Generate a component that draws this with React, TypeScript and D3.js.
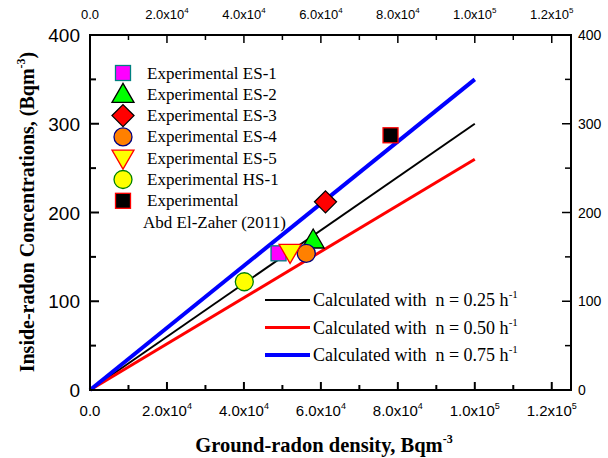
import React from "react";
import * as d3 from "d3";

const xTicks = [0, 20000, 40000, 60000, 80000, 100000, 120000];
const xTickMantissa = ["0.0", "2.0x10", "4.0x10", "6.0x10", "8.0x10", "1.0x10", "1.2x10"];
const xTickExp = ["", "4", "4", "4", "4", "5", "5"];
const yTicks = [0, 100, 200, 300, 400];

const lineNames = ["Calculated with  n = 0.25 h", "Calculated with  n = 0.50 h", "Calculated with  n = 0.75 h"];
const lineSlopeEnd = [300, 260, 350]; // value at x = 1e5
const lineXEnd = 100000;
const lineColors = ["#000000", "#ff0000", "#0000ff"];
const lineWidths = [2, 3, 4];

const pointNames = ["Experimental ES-1", "Experimental ES-2", "Experimental ES-3", "Experimental ES-4", "Experimental ES-5", "Experimental HS-1", "Experimental"];
const pointX = [49000, 58000, 61200, 56200, 52000, 40100, 78100];
const pointY = [154, 169, 212, 154, 155, 122, 287];
const pointShapes = ["square", "triangle", "diamond", "circle", "triangleDown", "circle", "square"];
const pointFill = ["#ff00ff", "#00ff00", "#ff0000", "#ff8000", "#ffff00", "#ffff00", "#000000"];
const pointStroke = ["#008080", "#000000", "#000000", "#000080", "#ff0000", "#008000", "#ff0000"];

const W = 608, H = 458;
const x = d3.scaleLinear().domain([0, 125000]).range([90, 571]);
const y = d3.scaleLinear().domain([0, 400]).range([390, 35]);

function Marker({ shape, cx, cy, fill, stroke }: any) {
  const sw = 1.3;
  if (shape === "square") return <rect x={cx - 7.5} y={cy - 7.5} width={15} height={15} fill={fill} stroke={stroke} strokeWidth={sw} />;
  if (shape === "circle") return <circle cx={cx} cy={cy} r={9} fill={fill} stroke={stroke} strokeWidth={sw} />;
  if (shape === "diamond") return <path d={`M${cx},${cy - 11}L${cx + 11},${cy}L${cx},${cy + 11}L${cx - 11},${cy}Z`} fill={fill} stroke={stroke} strokeWidth={sw} />;
  if (shape === "triangle") return <path d={`M${cx},${cy - 11}L${cx + 11},${cy + 8}L${cx - 11},${cy + 8}Z`} fill={fill} stroke={stroke} strokeWidth={sw} />;
  if (shape === "triangleDown") return <path d={`M${cx},${cy + 11}L${cx + 11},${cy - 8}L${cx - 11},${cy - 8}Z`} fill={fill} stroke={stroke} strokeWidth={sw} />;
  return null;
}

export default function App() {
  const minorX = d3.range(0, 125001, 10000);
  const minorY = d3.range(0, 401, 50);
  const line = d3.line<[number, number]>().x((d) => x(d[0])).y((d) => y(d[1]));
  const serif = "'Liberation Serif', 'Times New Roman', serif";
  const sans = "'Liberation Sans', Arial, sans-serif";
  return (
    <svg width={W} height={H} style={{ position: "absolute", left: 0, top: 0, background: "#fff" }}>
      <rect width={W} height={H} fill="#fff" />
      {/* calculated lines */}
      {lineSlopeEnd.map((v, i) => (
        <path key={i} d={line([[0, 0], [lineXEnd, v]]) as string} stroke={lineColors[i]} strokeWidth={lineWidths[i]} fill="none" />
      ))}
      {/* points */}
      {pointX.map((px, i) => (
        <Marker key={i} shape={pointShapes[i]} cx={x(px)} cy={y(pointY[i])} fill={pointFill[i]} stroke={pointStroke[i]} />
      ))}
      {/* frame */}
      <rect x={x(0)} y={y(400)} width={x(125000) - x(0)} height={y(0) - y(400)} fill="none" stroke="#000" strokeWidth={2} />
      {/* x ticks */}
      {minorX.map((t) => {
        const major = t % 20000 === 0;
        const L = major ? 8 : 5;
        return (
          <g key={t}>
            <line x1={x(t)} x2={x(t)} y1={y(0)} y2={y(0) - L} stroke="#000" strokeWidth={2} />
            <line x1={x(t)} x2={x(t)} y1={y(400)} y2={y(400) + L} stroke="#000" strokeWidth={1.5} />
          </g>
        );
      })}
      {minorY.map((t) => {
        const major = t % 100 === 0;
        const L = major ? 9 : 6;
        return (
          <g key={t}>
            <line x1={x(0)} x2={x(0) + L} y1={y(t)} y2={y(t)} stroke="#000" strokeWidth={2} />
            <line x1={x(125000)} x2={x(125000) - L} y1={y(t)} y2={y(t)} stroke="#000" strokeWidth={1.5} />
          </g>
        );
      })}
      {/* bottom tick labels */}
      {xTicks.map((t, i) => (
        <text key={t} x={x(t)} y={416} textAnchor="middle" fontFamily={sans} fontSize={15} fill="#000">
          {xTickMantissa[i]}
          {xTickExp[i] && <tspan dy={-7} fontSize={9}>{xTickExp[i]}</tspan>}
        </text>
      ))}
      {/* top tick labels */}
      {xTicks.map((t, i) => (
        <text key={t} x={x(t)} y={19} textAnchor="middle" fontFamily={sans} fontSize={13} fill="#000">
          {xTickMantissa[i]}
          {xTickExp[i] && <tspan dy={-6} fontSize={8}>{xTickExp[i]}</tspan>}
        </text>
      ))}
      {/* left tick labels */}
      {yTicks.map((t) => (
        <text key={t} x={80} y={y(t) + 7} textAnchor="end" fontFamily={sans} fontSize={19} fill="#000">{t}</text>
      ))}
      {/* right tick labels */}
      {yTicks.map((t) => (
        <text key={t} x={578} y={y(t) + 5} textAnchor="start" fontFamily={sans} fontSize={14} fill="#000">{t}</text>
      ))}
      {/* axis titles */}
      <text x={324} y={452} textAnchor="middle" fontFamily={serif} fontWeight="bold" fontSize={20.5} fill="#000">
        Ground-radon density, Bqm<tspan dy={-9} fontSize={12}>-3</tspan>
      </text>
      <text transform="translate(34,212) rotate(-90)" textAnchor="middle" fontFamily={serif} fontWeight="bold" fontSize={20} fill="#000">
        Inside-radon Concentrations, (Bqm<tspan dy={-9} fontSize={12}>-3</tspan><tspan dy={9}>)</tspan>
      </text>
      {/* point legend */}
      {pointNames.map((n, i) => {
        const cy = 73 + i * 21.3;
        return (
          <g key={n}>
            <Marker shape={pointShapes[i]} cx={123} cy={cy} fill={pointFill[i]} stroke={pointStroke[i]} />
            <text x={147} y={cy + 5.5} fontFamily={serif} fontSize={17} fill="#000">{n}</text>
          </g>
        );
      })}
      <text x={143} y={73 + 7 * 21.3 + 5.5} fontFamily={serif} fontSize={17} fill="#000">Abd El-Zaher (2011)</text>
      {/* line legend */}
      {lineNames.map((n, i) => {
        const cy = 300 + i * 27.5;
        return (
          <g key={n}>
            <line x1={265} x2={310} y1={cy} y2={cy} stroke={lineColors[i]} strokeWidth={lineWidths[i]} />
            <text x={313} y={cy + 6} fontFamily={serif} fontSize={18} fill="#000" style={{ whiteSpace: "pre" }}>
              {n}<tspan dy={-8} fontSize={11}>-1</tspan>
            </text>
          </g>
        );
      })}
    </svg>
  );
}
